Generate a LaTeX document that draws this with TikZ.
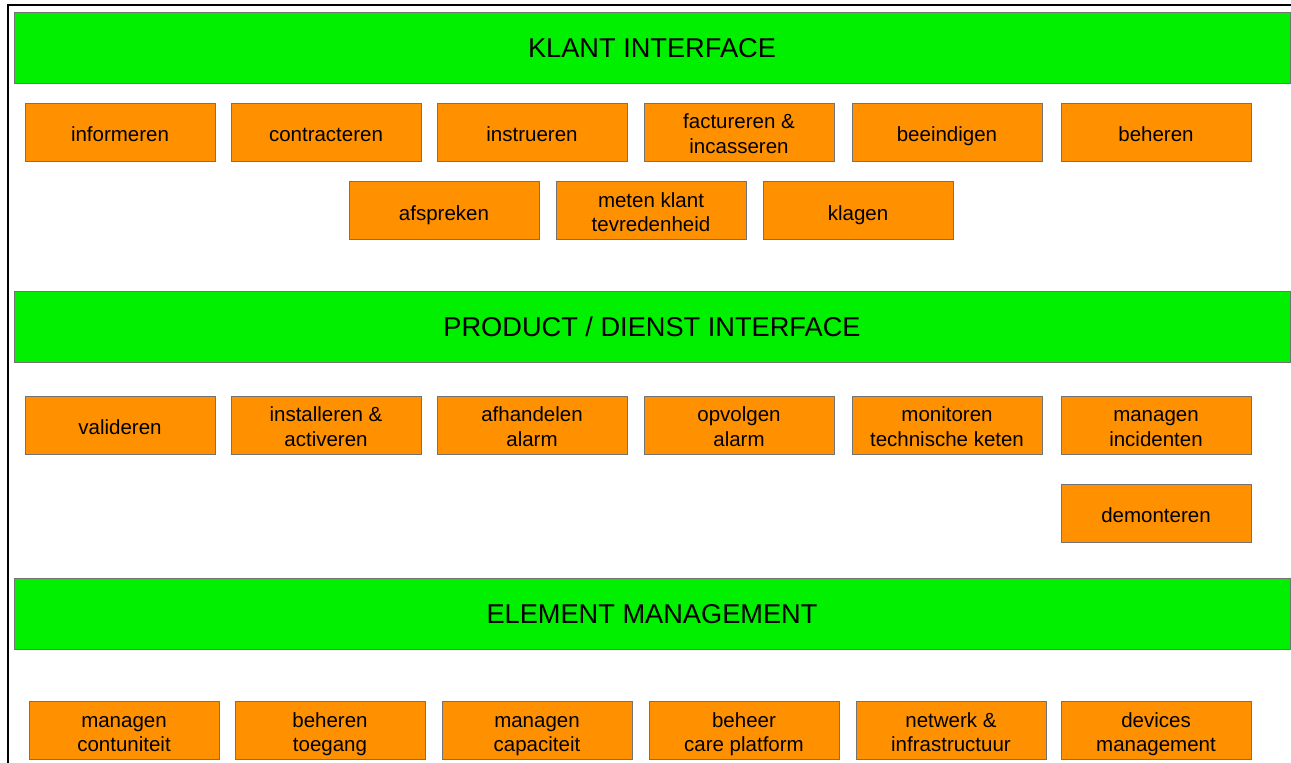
\documentclass[tikz,border=0pt]{standalone}
\usepackage{fontspec}
\setmainfont{Liberation Sans}
\definecolor{layergreen}{RGB}{0,240,0}
\definecolor{taskorange}{RGB}{255,145,0}
\definecolor{edgegray}{RGB}{115,115,115}
\begin{document}
\begin{tikzpicture}[x=1pt,y=-1pt,
  layer/.style={draw=edgegray,line width=0.9pt,fill=layergreen,minimum width=1276pt,minimum height=71pt,inner sep=0pt,
    text height=19pt,text depth=0pt,font=\fontsize{27.2}{31}\selectfont},
  task/.style={draw=edgegray,line width=0.9pt,fill=taskorange,minimum width=190pt,minimum height=58pt,inner sep=0pt,align=center,
    text height=19.5pt,text depth=0.5pt,font=\fontsize{20.5}{24.2}\selectfont},
  twoline/.style={text height=42pt,text depth=0pt},
  frameline/.style={line width=2pt,black}]
\useasboundingbox (0,0) rectangle (1291,763);

% outer frame (open at right and bottom)
\coordinate (fbl) at (8,770);
\coordinate (ftl) at (8,5);
\coordinate (ftr) at (1298,5);
\draw[frameline] (fbl) -- (ftl) -- (ftr);

% layer bars
\node[layer] (klant) at (652,47.5) {KLANT INTERFACE};
\node[layer] (product) at (652,326.5) {PRODUCT / DIENST INTERFACE};
\node[layer] (element) at (652,613.5) {ELEMENT MANAGEMENT};

% klant interface tasks
\node[task] (informeren) at (120,132) {informeren};
\node[task] (contracteren) at (326,132) {contracteren};
\node[task] (instrueren) at (532,132) {instrueren};
\node[task,twoline] (factureren) at (739,132) {factureren \&\\incasseren};
\node[task] (beeindigen) at (947,132) {beeindigen};
\node[task] (beheren) at (1156,132) {beheren};
\node[task] (afspreken) at (444,210.5) {afspreken};
\node[task,twoline] (meten) at (651,210.5) {meten klant\\tevredenheid};
\node[task] (klagen) at (858,210.5) {klagen};

% product / dienst interface tasks
\node[task] (valideren) at (120,425) {valideren};
\node[task,twoline] (installeren) at (326,425) {installeren \&\\activeren};
\node[task,twoline] (afhandelen) at (532,425) {afhandelen\\alarm};
\node[task,twoline] (opvolgen) at (739,425) {opvolgen\\alarm};
\node[task,twoline] (monitoren) at (947,425) {monitoren\\technische keten};
\node[task,twoline] (incidenten) at (1156,425) {managen\\incidenten};
\node[task] (demonteren) at (1156,513) {demonteren};

% element management tasks
\node[task,twoline] (contunuiteit) at (124,730.5) {managen\\contuniteit};
\node[task,twoline] (toegang) at (330,730.5) {beheren\\toegang};
\node[task,twoline] (capaciteit) at (537,730.5) {managen\\capaciteit};
\node[task,twoline] (platform) at (744,730.5) {beheer\\care platform};
\node[task,twoline] (netwerk) at (951,730.5) {netwerk \&\\infrastructuur};
\node[task,twoline] (devices) at (1156,730.5) {devices\\management};
\end{tikzpicture}
\end{document}
